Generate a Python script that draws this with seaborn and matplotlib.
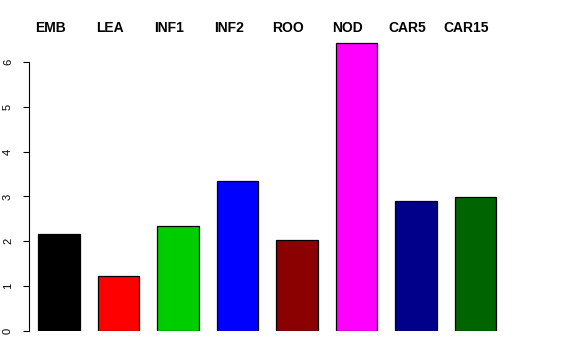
import matplotlib
matplotlib.use("Agg")
import matplotlib.pyplot as plt
import matplotlib.transforms as mtransforms
import seaborn as sns

# values
tissues = ["EMB", "LEA", "INF1", "INF2", "ROO", "NOD", "CAR5", "CAR15"]
values = [2.16, 1.23, 2.34, 3.35, 2.03, 6.42, 2.90, 2.99]
bar_colors = ["#000000", "#FF0000", "#00CD00", "#0000FF",
              "#8B0000", "#FF00FF", "#00008B", "#006400"]
yticks = [0, 1, 2, 3, 4, 5, 6]

sns.set_style("white")
plt.rcParams["font.family"] = ["Liberation Sans", "DejaVu Sans"]
plt.rcParams["text.color"] = "black"
plt.rcParams["ytick.color"] = "black"
plt.rcParams["ytick.labelcolor"] = "black"

fig = plt.figure(figsize=(5.76, 3.6), dpi=100)
ax = fig.add_axes([29 / 576, 29 / 360, 518 / 576, 291 / 360])

sns.barplot(x=tissues, y=values, hue=tissues, palette=bar_colors,
            legend=False, width=0.7, edgecolor="black", linewidth=0.9,
            saturation=1, ax=ax)

ax.set_xlim(-0.504, 8.202)
ax.set_ylim(0, 6.49)
ax.set_yticks(yticks)
ax.set_yticklabels([str(t) for t in yticks], rotation=90, va="center",
                   fontsize=8, color="black")
ax.tick_params(axis="y", length=4.5, width=0.8, pad=7, left=True,
               colors="black")
ax.set_xticks([])
for s in ["top", "right", "bottom"]:
    ax.spines[s].set_visible(False)
ax.spines["left"].set_bounds(0, 6)
ax.spines["left"].set_linewidth(0.8)
ax.spines["left"].set_color("black")

# tissue names along the top
trans = mtransforms.blended_transform_factory(ax.transData, fig.transFigure)
for i, name in enumerate(tissues):
    ax.text(i - 0.15, 1 - 28 / 360, name, transform=trans, ha="center",
            va="center", fontsize=10, fontweight="bold", color="black")

ax.set_xlabel("")
ax.set_ylabel("")
fig.savefig("out.png", dpi=100)
